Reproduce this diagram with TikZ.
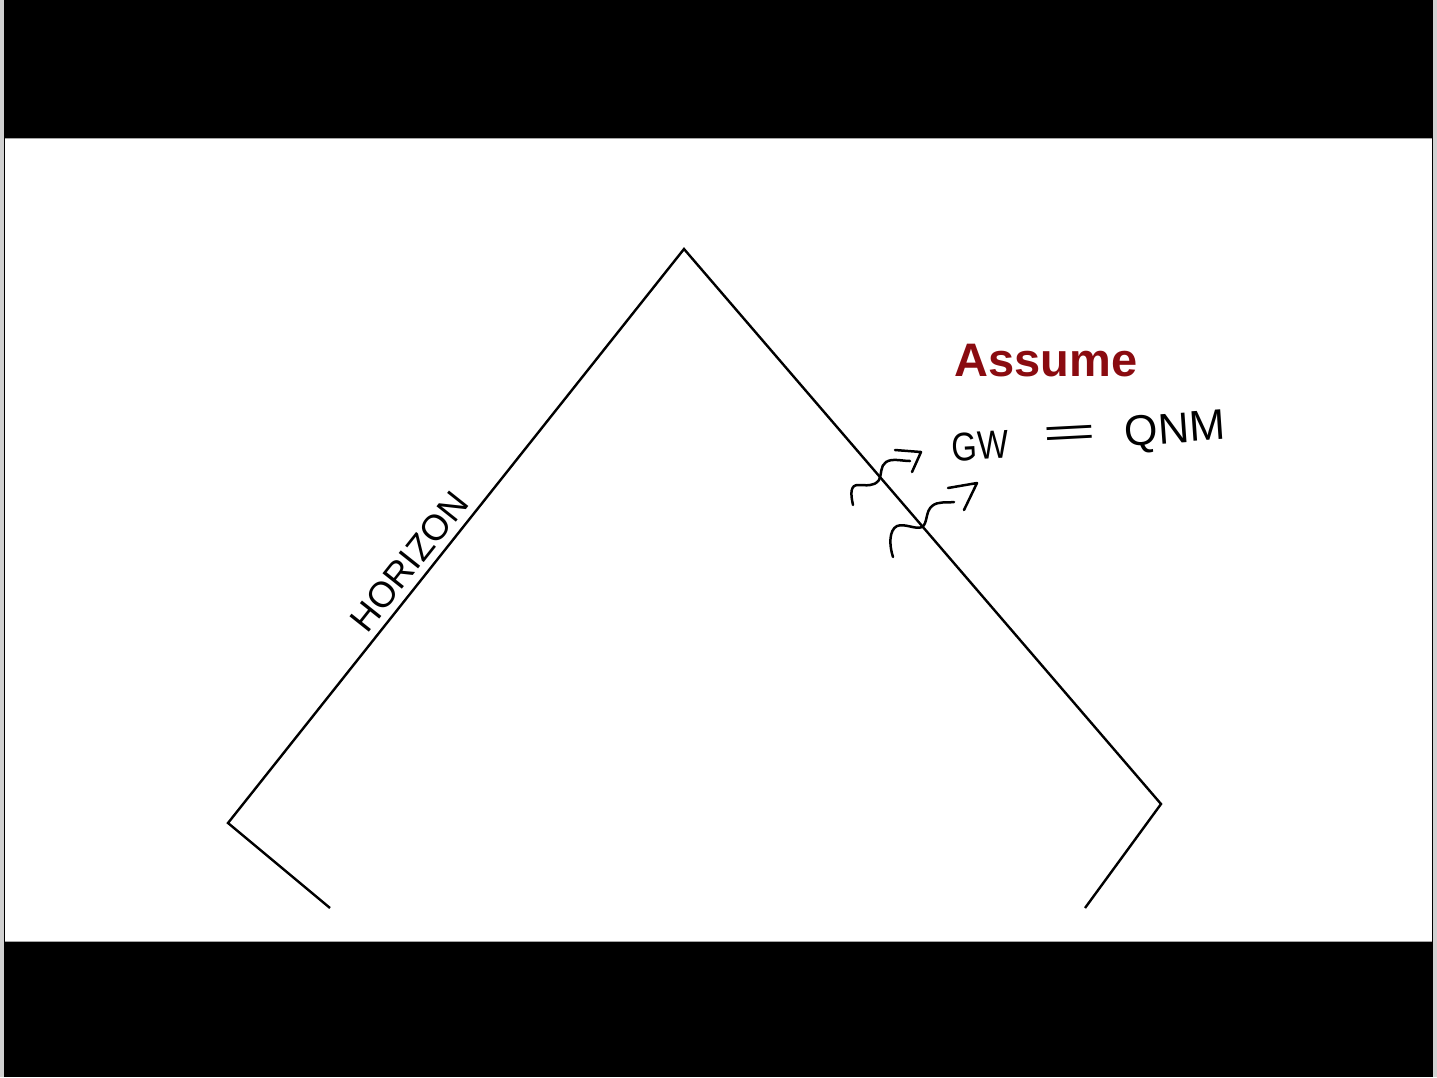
\documentclass[tikz,border=0pt]{standalone}
\usepackage{fontspec}
\setmainfont{Liberation Sans}
\definecolor{assumered}{HTML}{8A0B10}
\definecolor{edgegray}{gray}{0.82}
\begin{document}
\begin{tikzpicture}[x=1pt,y=-1pt,
  penline/.style={line width=2.4pt, line join=miter, black},
  inkline/.style={line width=2.5pt, line cap=round, line join=round, black},
  hand/.style={inner sep=0pt, font=\fontsize{40}{40}\selectfont}]
\useasboundingbox (0,0) rectangle (1437,1077);
% frame
\fill[edgegray] (0,0) rectangle (1437,1077);
\fill[black] (4,0) rectangle (1433,1077);
\fill[white] (5,138) rectangle (1432,941);
\draw[gray!70, line width=1pt] (5,138.5) -- (1432,138.5);
\draw[gray!70, line width=1pt] (5,941) -- (1432,941);
% Penrose-like diagram
\coordinate (bl) at (330,908);
\coordinate (lc) at (228,823);
\coordinate (top) at (684,249);
\coordinate (rc) at (1161,804);
\coordinate (br) at (1085,908);
\draw[penline] (bl) -- (lc) -- (top) -- (rc) -- (br);
% HORIZON label
\path (lc) -- (top) node[pos=0.433, sloped, above=8pt, inner sep=0pt,
  font=\fontsize{36}{36}\selectfont] (hor) {HORIZON};
% Assume
\node[anchor=base, inner sep=0pt, text=assumered,
  font=\fontsize{47}{47}\selectfont\bfseries] (assume) at (1046,376) {Assume};
% GW = QNM
\node[hand, rotate=3, xscale=0.82] (gw) at (980,446) {GW};
\node[hand, rotate=3, xscale=2.3] (eq) at (1070,436) {=};
\node[hand, rotate=4, font=\fontsize{43}{43}\selectfont] (qnm) at (1175,432) {QNM};
% wavy arrows crossing the horizon line
\draw[inkline] (853,505) .. controls (850,492) and (851,485) .. (858,485)
  .. controls (866,485) and (874,487) .. (879,480)
  .. controls (882,474) and (880,466) .. (886,462)
  .. controls (892,458) and (902,461) .. (910,461);
\draw[inkline] (895,450) -- (921,452) -- (912,472);
\draw[inkline] (893,557) .. controls (889,545) and (889,530) .. (897,526)
  .. controls (905,523) and (916,530) .. (922,527)
  .. controls (928,523) and (925,512) .. (932,506)
  .. controls (938,501) and (946,503) .. (954,502);
\draw[inkline] (948,488) -- (977,483) -- (964,510);
\end{tikzpicture}
\end{document}
